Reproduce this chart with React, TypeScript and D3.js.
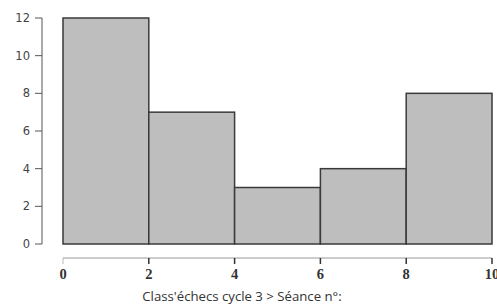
import { useEffect, useRef } from 'react'
import * as d3 from 'd3'

const WIDTH = 497
const HEIGHT = 305

// histogram bins (Séance n°) and counts
const binStarts = [0, 2, 4, 6, 8]
const binWidth = 2
const counts = [12, 7, 3, 4, 8]
const yTicks = [0, 2, 4, 6, 8, 10, 12]
const xTicks = [0, 2, 4, 6, 8, 10]
const xTitle = "Class'échecs cycle 3 > Séance n°:"

export default function App() {
  const svgRef = useRef<SVGSVGElement | null>(null)

  useEffect(() => {
    if (!svgRef.current) return
    const svg = d3.select(svgRef.current)
    svg.selectAll('*').remove()

    const x = d3.scaleLinear().domain([0, 10]).range([63, 492])
    const y = d3.scaleLinear().domain([0, 12]).range([244, 18])

    // bars
    svg.append('g')
      .selectAll('rect')
      .data(binStarts.map((s, i) => ({ s, v: counts[i] })))
      .enter()
      .append('rect')
      .attr('x', d => x(d.s))
      .attr('y', d => y(d.v))
      .attr('width', d => x(d.s + binWidth) - x(d.s))
      .attr('height', d => y(0) - y(d.v))
      .attr('fill', '#bebebe')
      .attr('stroke', '#3a3a3a')
      .attr('stroke-width', 1.5)

    // y axis
    const yAxis = svg.append('g').attr('transform', 'translate(42,0)')
    yAxis.append('line')
      .attr('x1', 0).attr('x2', 0)
      .attr('y1', y(0)).attr('y2', y(12))
      .attr('stroke', '#555')
    yAxis.selectAll('.tick')
      .data(yTicks)
      .enter()
      .append('line')
      .attr('x1', -7).attr('x2', 0)
      .attr('y1', d => y(d)).attr('y2', d => y(d))
      .attr('stroke', '#555')
    yAxis.selectAll('text')
      .data(yTicks)
      .enter()
      .append('text')
      .attr('x', -12)
      .attr('y', d => y(d))
      .attr('dy', '0.35em')
      .attr('text-anchor', 'end')
      .attr('font-family', 'DejaVu Sans, sans-serif')
      .attr('font-size', 11.5)
      .attr('fill', '#444')
      .text(d => d)

    // x axis
    const xAxis = svg.append('g').attr('transform', 'translate(0,258)')
    xAxis.append('line')
      .attr('x1', x(0)).attr('x2', x(10))
      .attr('y1', 0).attr('y2', 0)
      .attr('stroke', '#999')
    xAxis.selectAll('.tick')
      .data(xTicks)
      .enter()
      .append('line')
      .attr('x1', d => x(d)).attr('x2', d => x(d))
      .attr('y1', 0).attr('y2', 6)
      .attr('stroke', d => (d === 0 ? '#bbb' : '#333'))
      .attr('stroke-width', d => (d === 0 ? 1 : 1.5))
    xAxis.selectAll('text')
      .data(xTicks)
      .enter()
      .append('text')
      .attr('x', d => x(d))
      .attr('y', 21)
      .attr('text-anchor', 'middle')
      .attr('font-family', 'Liberation Serif, serif')
      .attr('font-weight', 'bold')
      .attr('font-size', 14.5)
      .attr('fill', '#333')
      .text(d => d)

    // axis title
    svg.append('text')
      .attr('x', 242)
      .attr('y', 301)
      .attr('text-anchor', 'middle')
      .attr('font-family', 'Open Sans, sans-serif')
      .attr('font-size', 13.2)
      .attr('fill', '#333')
      .text(xTitle)
  }, [])

  return (
    <svg
      ref={svgRef}
      width={WIDTH}
      height={HEIGHT}
      style={{ position: 'absolute', left: 0, top: 0, background: '#fff' }}
    />
  )
}
